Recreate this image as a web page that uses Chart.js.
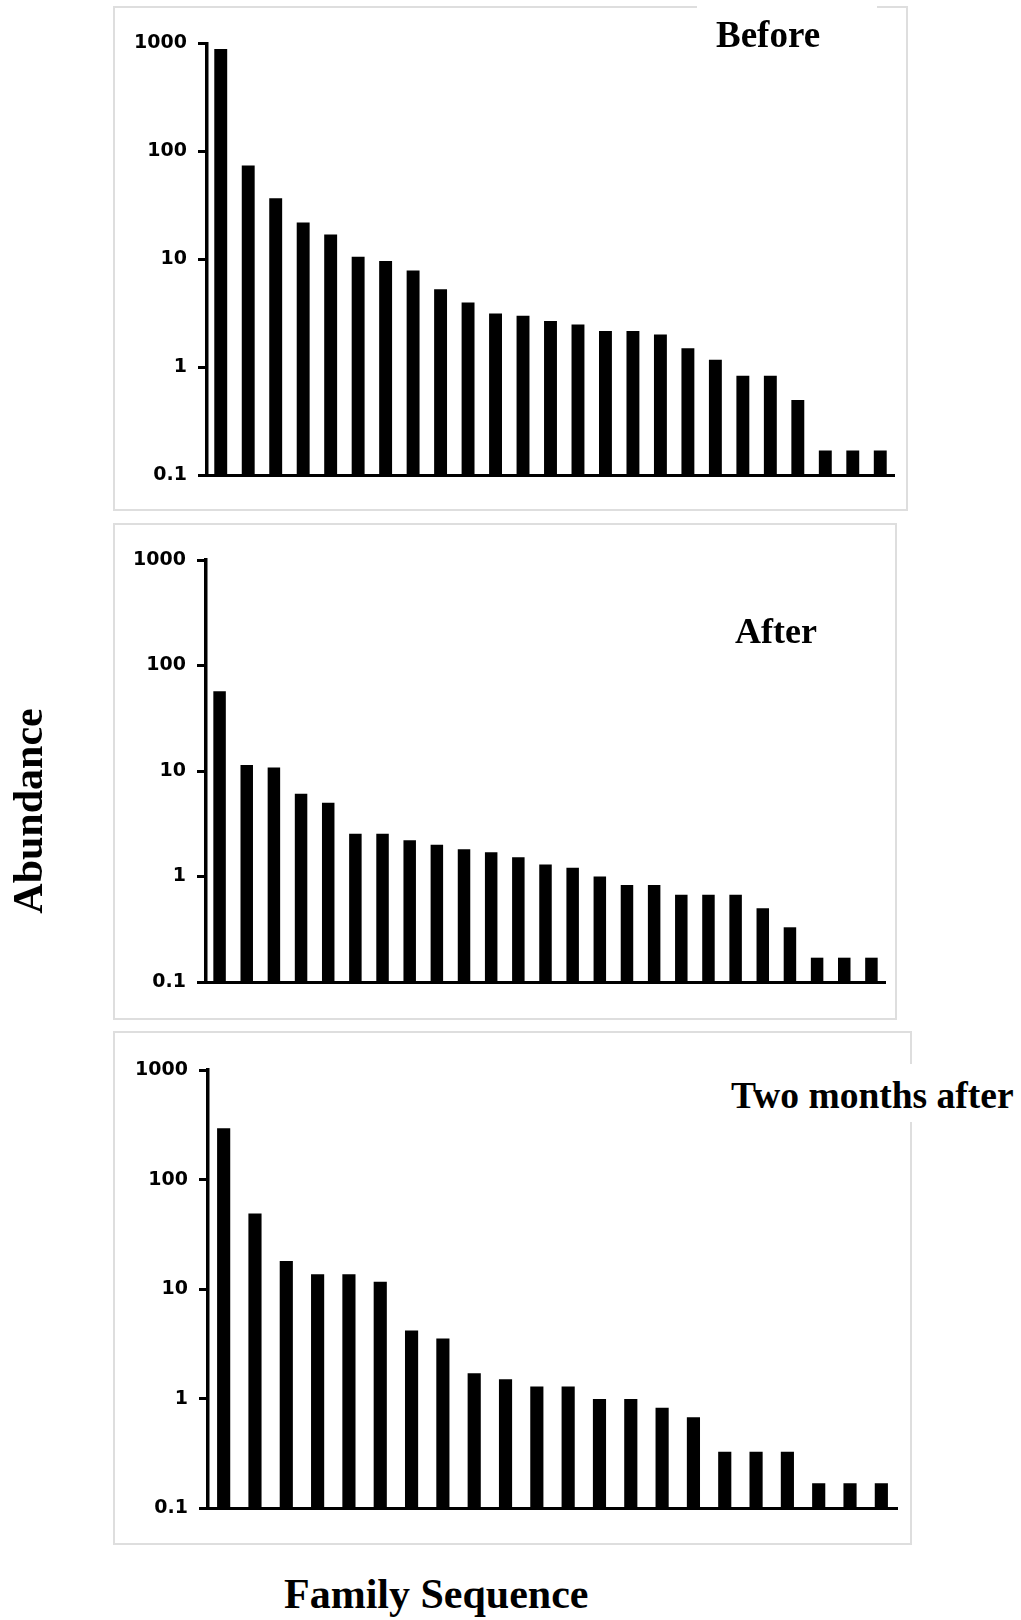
<!DOCTYPE html>
<html>
<head>
<meta charset="utf-8">
<script src="https://cdn.jsdelivr.net/npm/chart.js@4.4.1/dist/chart.umd.min.js"></script>
<style>
  html, body { margin: 0; padding: 0; background: #fff; }
  #page { position: relative; width: 1021px; height: 1620px; overflow: hidden; background: #fff; }
  canvas { position: absolute; left: 0; }
  .frame { position: absolute; box-sizing: border-box; border: 2px solid #dedede; }
  .title { position: absolute; font-family: "Liberation Serif", "Times New Roman", serif; font-weight: bold; color: #000; line-height: 1; white-space: nowrap; }
  .mask { position: absolute; background: #fff; }
</style>
</head>
<body>
<div id="page">
  <div class="frame" style="left:113px;top:6px;width:795px;height:505px;"></div>
  <div class="frame" style="left:113px;top:523px;width:784px;height:497px;"></div>
  <div class="frame" style="left:113px;top:1031px;width:799px;height:514px;"></div>

  <canvas id="c1"></canvas>
  <canvas id="c2"></canvas>
  <canvas id="c3"></canvas>

  <div class="mask" style="left:697px;top:0px;width:180px;height:16px;"></div>
  <div class="title" style="left:716px;top:16px;font-size:37px;">Before</div>
  <div class="title" style="left:735px;top:613px;font-size:36px;">After</div>
  <div class="mask" style="left:724px;top:1064px;width:297px;height:58px;"></div>
  <div class="title" style="left:731px;top:1077px;font-size:37.5px;">Two months after</div>

  <div class="title" style="left:284px;top:1573px;font-size:42px;">Family Sequence</div>
  <div class="title" style="left:-82px;top:790px;width:220px;height:42px;font-size:42px;text-align:center;transform:rotate(-90deg);transform-origin:50% 50%;">Abundance</div>
</div>

<script>
// ---- data ----
const yTickValues = [0.1, 1, 10, 100, 1000];
const yTickLabels = ["0.1", "1", "10", "100", "1000"];

const familiesBefore = ["1","2","3","4","5","6","7","8","9","10","11","12","13","14","15","16","17","18","19","20","21","22","23","24","25"];
const abundanceBefore = [890, 74, 37, 22, 17, 10.6, 9.7, 7.9, 5.3, 4.0, 3.17, 3.02, 2.7, 2.5, 2.18, 2.18, 2.02, 1.51, 1.18, 0.84, 0.84, 0.5, 0.17, 0.17, 0.17];

const familiesAfter = ["1","2","3","4","5","6","7","8","9","10","11","12","13","14","15","16","17","18","19","20","21","22","23","24","25"];
const abundanceAfter = [57, 11.4, 10.8, 6.1, 5.0, 2.54, 2.54, 2.21, 2.0, 1.81, 1.7, 1.52, 1.3, 1.21, 1.0, 0.83, 0.83, 0.67, 0.67, 0.67, 0.5, 0.33, 0.17, 0.17, 0.17];

const familiesTwoMonths = ["1","2","3","4","5","6","7","8","9","10","11","12","13","14","15","16","17","18","19","20","21","22"];
const abundanceTwoMonths = [294, 49, 18.1, 13.7, 13.7, 11.7, 4.2, 3.55, 1.71, 1.51, 1.3, 1.3, 1.0, 1.0, 0.83, 0.68, 0.33, 0.33, 0.33, 0.17, 0.17, 0.17];

// ---- layout of each panel (chart area in page pixels) ----
const panels = [
  { id: "c1", labels: familiesBefore, values: abundanceBefore, left: 207, right: 894, top: 43.5, bottom: 475.5, bar: 0.47 },
  { id: "c2", labels: familiesAfter, values: abundanceAfter, left: 206, right: 885, top: 560, bottom: 982, bar: 0.46 },
  { id: "c3", labels: familiesTwoMonths, values: abundanceTwoMonths, left: 208, right: 897, top: 1070, bottom: 1508.5, bar: 0.42 }
];

const PAD = 32;

panels.forEach(p => {
  const cv = document.getElementById(p.id);
  const topPx = Math.floor(p.top - PAD);
  const padTop = p.top - topPx;
  const h = Math.round(p.bottom - topPx + PAD);
  const padBottom = h - (p.bottom - topPx);
  cv.width = 1021; cv.height = h;
  cv.style.width = "1021px"; cv.style.height = h + "px";
  cv.style.top = topPx + "px";
  const yW = p.left;
  new Chart(cv, {
    type: "bar",
    data: {
      labels: p.labels,
      datasets: [{
        data: p.values,
        backgroundColor: "#000",
        borderWidth: 0,
        barPercentage: p.bar,
        categoryPercentage: 1.0
      }]
    },
    options: {
      responsive: false,
      animation: false,
      devicePixelRatio: 1,
      layout: { padding: { top: padTop, left: 0, right: 1021 - p.right, bottom: 0 } },
      plugins: { legend: { display: false }, tooltip: { enabled: false }, title: { display: false } },
      scales: {
        x: {
          type: "category",
          offset: true,
          grid: { display: false },
          border: { display: true, color: "#000", width: 3 },
          ticks: { display: false },
          afterFit: s => { s.height = padBottom; }
        },
        y: {
          type: "logarithmic",
          min: 0.1,
          max: 1000,
          afterBuildTicks: s => { s.ticks = yTickValues.map(v => ({ value: v })); },
          afterFit: s => { s.width = yW; },
          grid: { display: true, drawOnChartArea: false, drawTicks: true, tickLength: 9, color: "#000", lineWidth: 3 },
          border: { display: true, color: "#000", width: 3.5 },
          ticks: {
            padding: 11,
            color: "#000",
            font: { family: "DejaVu Sans", weight: "bold", size: 19 },
            callback: (v) => { const i = yTickValues.indexOf(v); return i >= 0 ? yTickLabels[i] : ""; }
          }
        }
      }
    }
  });
});
</script>
</body>
</html>
